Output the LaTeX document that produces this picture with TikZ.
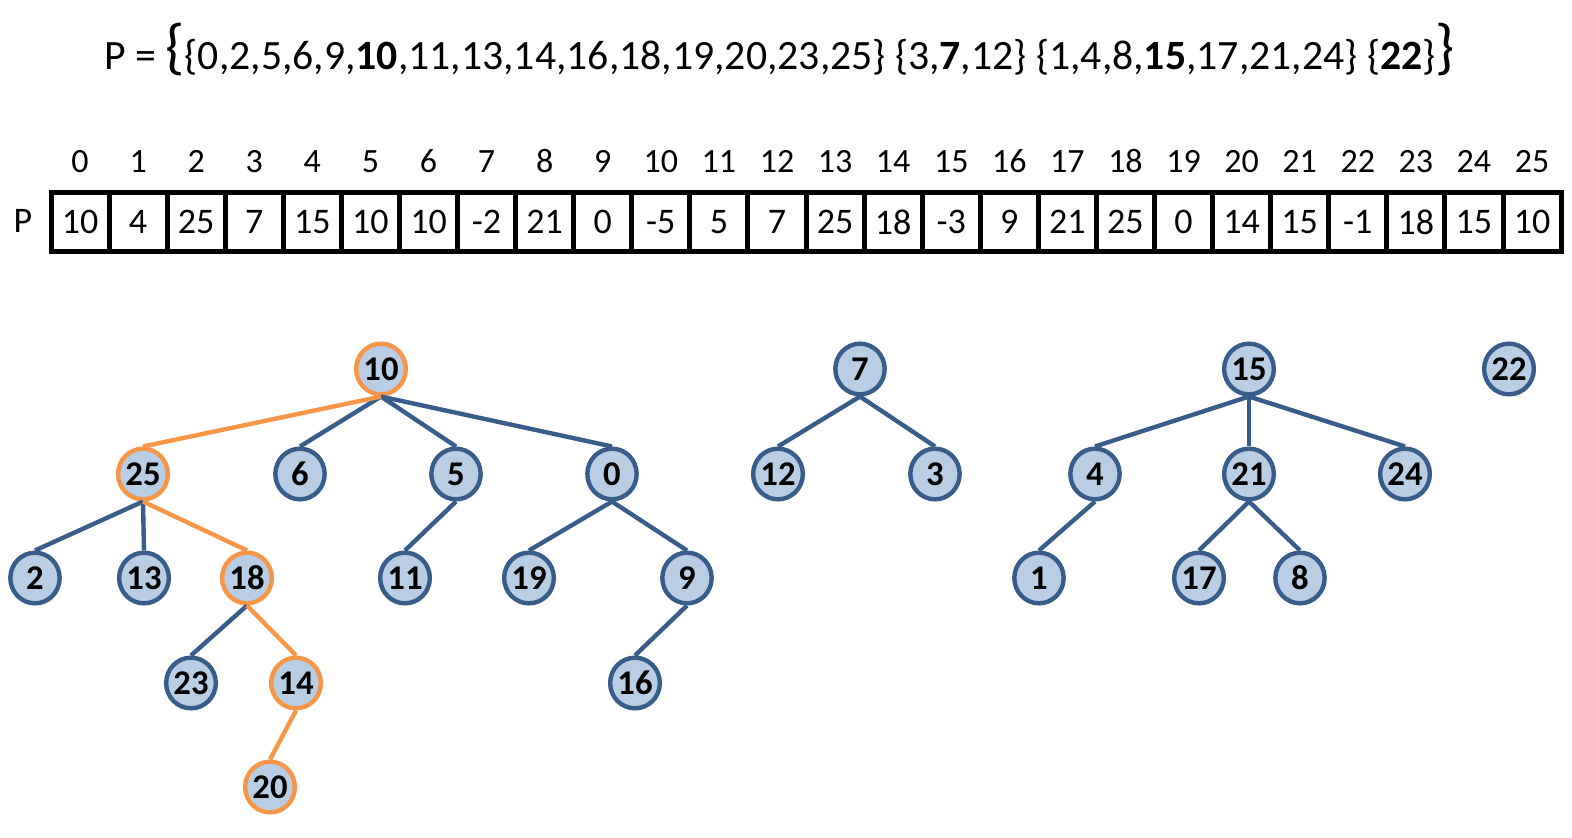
\documentclass[tikz,border=0pt]{standalone}
\usepackage{fontspec}
\setmainfont{Carlito}
\usetikzlibrary{shapes.geometric}

\definecolor{nodefill}{HTML}{B9CDE5}
\definecolor{nodeline}{HTML}{385D8A}
\definecolor{pathline}{HTML}{F79646}

\tikzset{
  vertex/.style={ellipse, draw=nodeline, fill=nodefill, line width=3.3pt, inner sep=0pt,
    minimum width=37pt, minimum height=38pt, font=\fontsize{26}{30}\selectfont\bfseries},
  hotvertex/.style={vertex, draw=pathline},
  link/.style={draw=nodeline, line width=3.3pt},
  hotlink/.style={draw=pathline, line width=3.3pt},
  cell/.style={draw, line width=3.75pt, minimum width=43.56pt, minimum height=44.25pt,
    inner sep=0pt, font=\fontsize{27}{32}\selectfont},
  index/.style={anchor=base, inner sep=0pt, font=\fontsize{25.5}{30}\selectfont}
}

\begin{document}
\begin{tikzpicture}[x=0.75pt,y=-0.75pt]
\useasboundingbox (0,0) rectangle (1572,838);

% the partition
\node[anchor=base west, inner sep=0pt, font=\fontsize{31.3}{38}\selectfont] (title) at (104,70)
  {P = \raisebox{1.5pt}{\fontsize{46}{54}\selectfont\{}\{0,2,5,6,9,\textbf{10},11,13,14,16,18,19,20,23,25\} \{3,\textbf{7},12\} \{1,4,8,\textbf{15},17,21,24\} \{\textbf{22}\}\raisebox{1.5pt}{\fontsize{46}{54}\selectfont\}}};

% the array P
\node[anchor=base, inner sep=0pt, font=\fontsize{27}{32}\selectfont] (plabel) at (23,233) {P};
\foreach \v [count=\i from 0] in {10,4,25,7,15,10,10,-2,21,0,-5,5,7,25,18,-3,9,21,25,0,14,15,-1,18,15,10} {
  \node[cell] (p\i) at ({51+58.08*(\i+0.5)},222) {\v};
  \node[index] (i\i) at ({51+58.08*(\i+0.5)},173) {\i};
}

% first tree
\node[hotvertex] (v10) at (381,369) {10};
\node[hotvertex] (v25) at (143,474) {25};
\node[vertex] (v6) at (300,474) {6};
\node[vertex] (v5) at (456,474) {5};
\node[vertex] (v0) at (612,474) {0};
\node[vertex] (v2) at (35,578) {2};
\node[vertex] (v13) at (144,578) {13};
\node[hotvertex] (v18) at (247,578) {18};
\node[vertex] (v11) at (405,578) {11};
\node[vertex] (v19) at (529,578) {19};
\node[vertex] (v9) at (687,578) {9};
\node[vertex] (v23) at (191,683) {23};
\node[hotvertex] (v14) at (296,683) {14};
\node[vertex] (v16) at (635,683) {16};
\node[hotvertex] (v20) at (270,787) {20};

% second tree
\node[vertex] (v7) at (860,369) {7};
\node[vertex] (v12) at (778,474) {12};
\node[vertex] (v3) at (935,474) {3};

% third tree
\node[vertex] (v15) at (1249,369) {15};
\node[vertex] (v4) at (1095,474) {4};
\node[vertex] (v21) at (1249,474) {21};
\node[vertex] (v24) at (1405,474) {24};
\node[vertex] (v1) at (1039,578) {1};
\node[vertex] (v17) at (1199,578) {17};
\node[vertex] (v8) at (1300,578) {8};

% last tree
\node[vertex] (v22) at (1509,369) {22};

\draw[link] (v10.south) -- (v6.north);
\draw[link] (v10.south) -- (v5.north);
\draw[link] (v10.south) -- (v0.north);
\draw[link] (v25.south) -- (v2.north);
\draw[link] (v25.south) -- (v13.north);
\draw[link] (v5.south) -- (v11.north);
\draw[link] (v0.south) -- (v19.north);
\draw[link] (v0.south) -- (v9.north);
\draw[link] (v18.south) -- (v23.north);
\draw[link] (v9.south) -- (v16.north);
\draw[hotlink] (v10.south) -- (v25.north);
\draw[hotlink] (v25.south) -- (v18.north);
\draw[hotlink] (v18.south) -- (v14.north);
\draw[hotlink] (v14.south) -- (v20.north);

\draw[link] (v7.south) -- (v12.north);
\draw[link] (v7.south) -- (v3.north);

\draw[link] (v15.south) -- (v4.north);
\draw[link] (v15.south) -- (v21.north);
\draw[link] (v15.south) -- (v24.north);
\draw[link] (v4.south) -- (v1.north);
\draw[link] (v21.south) -- (v17.north);
\draw[link] (v21.south) -- (v8.north);
\end{tikzpicture}
\end{document}
